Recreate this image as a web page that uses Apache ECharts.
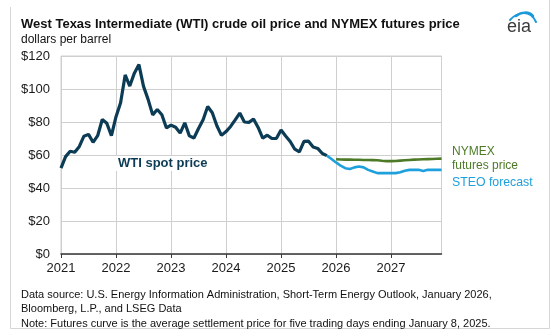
<!DOCTYPE html>
<html>
<head>
<meta charset="utf-8">
<script src="https://cdn.jsdelivr.net/npm/echarts@6/dist/echarts.min.js"></script>
<style>
  html, body { margin: 0; padding: 0; background: #fff; }
  #chart { width: 556px; height: 336px; }
</style>
</head>
<body>
<div id="chart"></div>
<script>
// Monthly axis: January 2021 through December 2027
const years = ['2021', '2022', '2023', '2024', '2025', '2026', '2027'];
const monthNames = ['01', '02', '03', '04', '05', '06', '07', '08', '09', '10', '11', '12'];
const months = [];
years.forEach(y => monthNames.forEach(m => months.push(y + '-' + m)));

// WTI spot price, monthly average, Jan 2021 - Nov 2025 (dollars per barrel)
const wtiSpot = [
  52.0, 59.0, 62.3, 61.7, 65.2, 71.4, 72.5, 67.7, 71.7, 81.5, 79.2, 71.7,
  83.2, 91.6, 108.5, 101.8, 109.6, 114.8, 101.6, 93.7, 84.3, 87.6, 84.4, 76.4,
  78.1, 76.8, 73.3, 79.5, 71.6, 70.3, 76.1, 81.4, 89.4, 85.6, 77.7, 71.9,
  74.2, 77.3, 81.3, 85.4, 80.0, 79.8, 81.8, 76.7, 70.2, 72.0, 70.0, 70.1,
  75.1, 71.5, 68.2, 63.5, 61.9, 68.2, 68.4, 64.9, 64.0, 60.9, 59.6
];

// STEO forecast, Nov 2025 - Dec 2027
const steoStart = '2025-11';
const steoForecast = [
  59.6, 57.6,
  55.5, 53.5, 52.0, 51.5, 52.5, 53.0, 52.5, 51.0, 50.0, 49.0, 49.0, 49.0,
  49.0, 49.0, 49.5, 50.5, 51.0, 51.0, 51.0, 50.3, 51.0, 51.0, 51.0, 51.0
];

// NYMEX futures curve, Jan 2026 - Dec 2027
const nymexStart = '2026-01';
const nymexFutures = [
  57.4, 57.3, 57.2, 57.2, 57.1, 57.1, 57.0, 57.0, 56.9, 56.8, 56.5, 56.3,
  56.3, 56.4, 56.6, 56.8, 57.0, 57.2, 57.3, 57.4, 57.5, 57.6, 57.7, 57.8
];

const yTicks = [0, 20, 40, 60, 80, 100, 120];

function placeSeries(values, startKey) {
  const out = months.map(() => null);
  const s = months.indexOf(startKey);
  values.forEach((v, i) => { out[s + i] = v; });
  return out;
}

const wtiData = placeSeries(wtiSpot, months[0]);
const steoData = placeSeries(steoForecast, steoStart);
const nymexData = placeSeries(nymexFutures, nymexStart);

const isYearStart = (i) => i % 12 === 0;

const FONT = 'Liberation Sans, Arial, sans-serif';
const chart = echarts.init(document.getElementById('chart'), null, { renderer: 'canvas' });

chart.setOption({
  animation: false,
  backgroundColor: '#ffffff',
  grid: {
    left: 61, right: 114.5, top: 56, bottom: 82,
    show: true, borderColor: '#cfcfcf', borderWidth: 1
  },
  xAxis: {
    type: 'category',
    data: months,
    boundaryGap: false,
    axisLine: { show: true, lineStyle: { color: '#3a3a3a', width: 1.5 } },
    axisTick: { show: true, interval: isYearStart, length: 4, lineStyle: { color: '#3a3a3a', width: 1 } },
    axisLabel: {
      interval: isYearStart, margin: 8,
      formatter: (v) => v.slice(0, 4),
      color: '#1a1a1a', fontSize: 13, fontFamily: FONT
    },
    splitLine: { show: true, interval: isYearStart, lineStyle: { color: '#cfcfcf', width: 1 } }
  },
  yAxis: {
    type: 'value',
    min: yTicks[0], max: yTicks[yTicks.length - 1], interval: 20,
    axisLine: { show: false },
    axisTick: { show: false },
    axisLabel: { formatter: (v) => '$' + v, color: '#1a1a1a', fontSize: 13, fontFamily: FONT, margin: 11 },
    splitLine: { lineStyle: { color: '#cfcfcf', width: 1 } }
  },
  series: [
    {
      name: 'WTI spot price', type: 'line', data: wtiData, showSymbol: false,
      lineStyle: { color: '#0c3c55', width: 3.2 }, z: 3
    },
    {
      name: 'NYMEX futures price', type: 'line', data: nymexData, showSymbol: false,
      lineStyle: { color: '#4d7a27', width: 2.6 }, z: 4
    },
    {
      name: 'STEO forecast', type: 'line', data: steoData, showSymbol: false,
      lineStyle: { color: '#1ea0dd', width: 2.6 }, z: 5
    }
  ],
  graphic: [
    // outer frame
    { type: 'line', shape: { x1: 10.5, y1: 7, x2: 10.5, y2: 328.5 }, style: { stroke: '#d6d6d6', lineWidth: 1 } },
    { type: 'line', shape: { x1: 10.5, y1: 328.5, x2: 549.5, y2: 328.5 }, style: { stroke: '#d6d6d6', lineWidth: 1 } },
    { type: 'line', shape: { x1: 549.5, y1: 0, x2: 549.5, y2: 328.5 }, style: { stroke: '#d6d6d6', lineWidth: 1 } },
    // title block
    { type: 'text', x: 21, y: 18, style: { text: 'West Texas Intermediate (WTI) crude oil price and NYMEX futures price', font: 'bold 13px ' + FONT, fill: '#111' } },
    { type: 'text', x: 21, y: 34, style: { text: 'dollars per barrel', font: '12px ' + FONT, fill: '#111' } },
    // eia logo swoosh and letters
    { type: 'bezierCurve', shape: { x1: 510, y1: 20, cpx1: 517, cpy1: 12, cpx2: 530, cpy2: 9, x2: 536, y2: 22 }, style: { stroke: '#1a9ad8', lineWidth: 2, fill: null, lineCap: 'round' } },
    { type: 'bezierCurve', shape: { x1: 516, y1: 16, cpx1: 521, cpy1: 12, cpx2: 529, cpy2: 11, x2: 533, y2: 16 }, style: { stroke: '#1a9ad8', lineWidth: 2.5, fill: null, lineCap: 'round' } },
    { type: 'text', x: 507, y: 18, style: { text: 'eia', font: '18px ' + FONT, fill: '#3b3b3b' } },
    // series labels
    { type: 'text', x: 116, y: 156, z: 10, style: { text: 'WTI spot price', font: 'bold 13px ' + FONT, fill: '#0c3c55', backgroundColor: '#ffffff', padding: [1, 2, 1, 2] } },
    { type: 'text', x: 452, y: 146, style: { text: 'NYMEX', font: '12px ' + FONT, fill: '#4d7a27' } },
    { type: 'text', x: 452, y: 160, style: { text: 'futures price', font: '12px ' + FONT, fill: '#4d7a27' } },
    { type: 'text', x: 452, y: 177, style: { text: 'STEO forecast', font: '12.3px ' + FONT, fill: '#1ea0dd' } },
    // source notes
    { type: 'text', x: 21, y: 289, style: { text: 'Data source: U.S. Energy Information Administration, Short-Term Energy Outlook, January 2026,', font: '11px ' + FONT, fill: '#111' } },
    { type: 'text', x: 21, y: 303, style: { text: 'Bloomberg, L.P., and LSEG Data', font: '11px ' + FONT, fill: '#111' } },
    { type: 'text', x: 21, y: 318, style: { text: 'Note: Futures curve is the average settlement price for five trading days ending January 8, 2025.', font: '11px ' + FONT, fill: '#111' } }
  ]
});
</script>
</body>
</html>
